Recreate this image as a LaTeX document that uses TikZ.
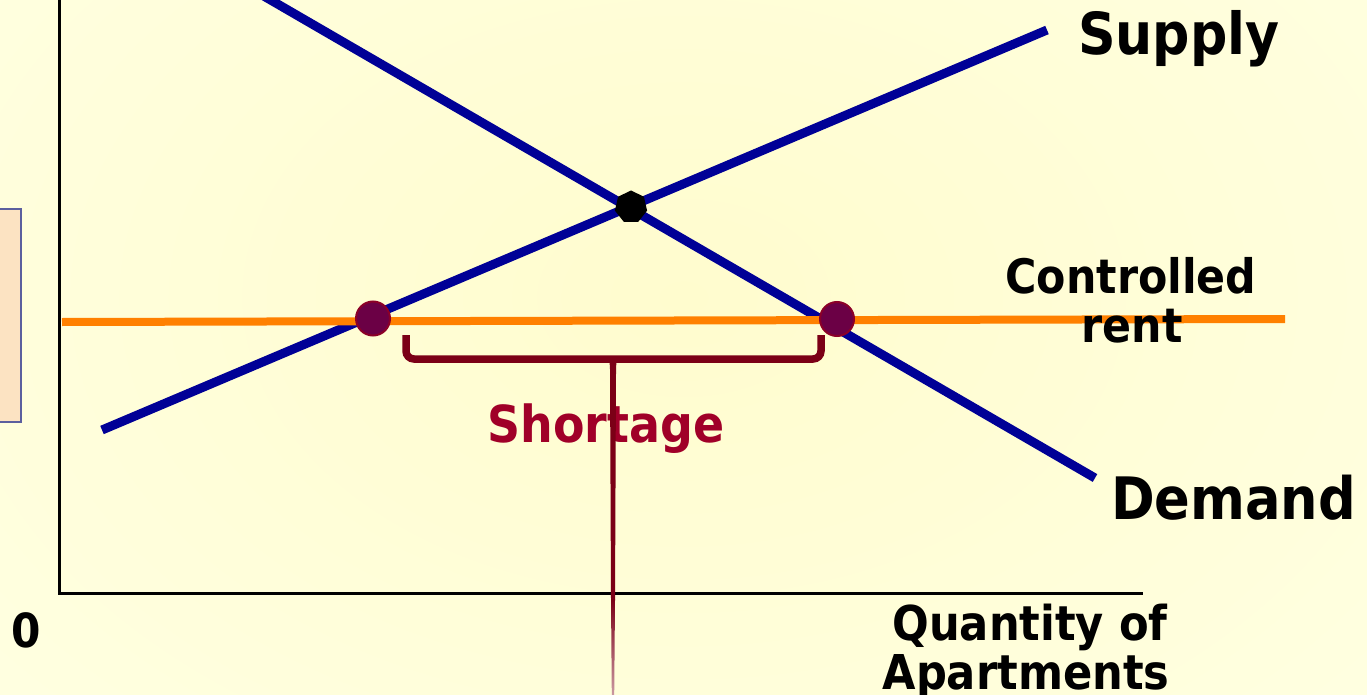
\documentclass[tikz,border=0pt]{standalone}
\usepackage{fontspec}
\newfontfamily\lab{DejaVu Sans Condensed Bold}
\usetikzlibrary{shapes.geometric}
\definecolor{curveblue}{RGB}{0,0,150}
\definecolor{rentorange}{RGB}{255,128,0}
\definecolor{dotfill}{RGB}{107,0,69}
\definecolor{dotedge}{RGB}{139,0,40}
\definecolor{bracered}{RGB}{123,0,22}
\definecolor{shortred}{RGB}{160,0,40}
\definecolor{bgin}{RGB}{255,252,206}
\definecolor{bgout}{RGB}{255,255,224}
\definecolor{boxfill}{RGB}{252,227,194}
\definecolor{boxedge}{RGB}{91,95,158}
\tikzset{
  curve/.style={draw=curveblue,line width=9pt},
  rentline/.style={draw=rentorange,line width=8pt},
  axisline/.style={draw=black,line width=3pt},
  qdot/.style={circle,fill=dotfill,draw=dotedge,line width=2pt,minimum size=34pt,inner sep=0pt},
  eqdot/.style={regular polygon,regular polygon sides=7,fill=black,minimum size=33pt,inner sep=0pt},
  lbl/.style={font=\lab,text=black,inner sep=0pt},
  bracepath/.style={draw=bracered,line width=7.5pt,rounded corners=8pt}
}
\begin{document}
\begin{tikzpicture}[x=1pt,y=-1pt]
\useasboundingbox (0,0) rectangle (1367,695);
\clip (0,0) rectangle (1367,695);
% background
\shade[inner color=bgin,outer color=bgout] (-200,-300) rectangle (1567,895);
% left box
\node[draw=boxedge,fill=boxfill,line width=2.5pt,minimum width=60pt,minimum height=213pt,inner sep=0pt,anchor=north east] (box) at (22,207.5) {};
% axes
\coordinate (O) at (59,593);
\coordinate (ytop) at (59,-2);
\coordinate (xend) at (1143,593);
\draw[axisline] (ytop) -- (O) -- (xend);
% curves
\coordinate (s1) at (102,430);
\coordinate (s2) at (1047,30);
\coordinate (d1) at (262,-5);
\coordinate (d2) at (1095,478);
\draw[curve] (s1) -- (s2);
\draw[curve] (d1) -- (d2);
% controlled rent
\coordinate (r1) at (62,322);
\coordinate (r2) at (1285,319);
\draw[rentline] (r1) -- (r2);
% points
\node[eqdot] (eq) at (631,207) {};
\node[qdot] (qs) at (373,318.5) {};
\node[qdot] (qd) at (837,319) {};
% labels
\node[lbl,font=\lab\fontsize{51}{58}\selectfont,text=shortred,anchor=base] (short) at (606,442) {Shortage};
% brace
\coordinate (b1) at (406,335);
\coordinate (b2) at (821,335);
\draw[bracepath] (b1) -- (406,359) -- (821,359) -- (b2);
\fill[bracered] (606,358) .. controls (610,360) and (610,364) .. (610,372) -- (611,600) -- (615,600) -- (616,372)
  .. controls (616,364) and (616,360) .. (620,358) -- cycle;
\shade[top color=bracered,bottom color=bracered!40] (611,599.5) -- (611.8,695) -- (614.2,695) -- (615,599.5) -- cycle;
\node[lbl,font=\lab\fontsize{58}{64}\selectfont,anchor=base west] (supply) at (1078,55) {Supply};
\node[lbl,font=\lab\fontsize{58.5}{64}\selectfont,anchor=base west] (demand) at (1111,519) {Demand};
\node[lbl,font=\lab\fontsize{47.5}{52}\selectfont,anchor=base] (ctrl) at (1131,293) {Controlled};
\node[lbl,font=\lab\fontsize{47.5}{52}\selectfont,anchor=base] (rent) at (1132,342) {rent};
\node[lbl,font=\lab\fontsize{47}{52}\selectfont,anchor=base] (zero) at (26,647) {0};
\node[lbl,font=\lab\fontsize{48}{52}\selectfont,anchor=base] (qty) at (1030,640) {Quantity of};
\node[lbl,font=\lab\fontsize{48}{52}\selectfont,anchor=base] (apt) at (1026,689) {Apartments};
\end{tikzpicture}
\end{document}
